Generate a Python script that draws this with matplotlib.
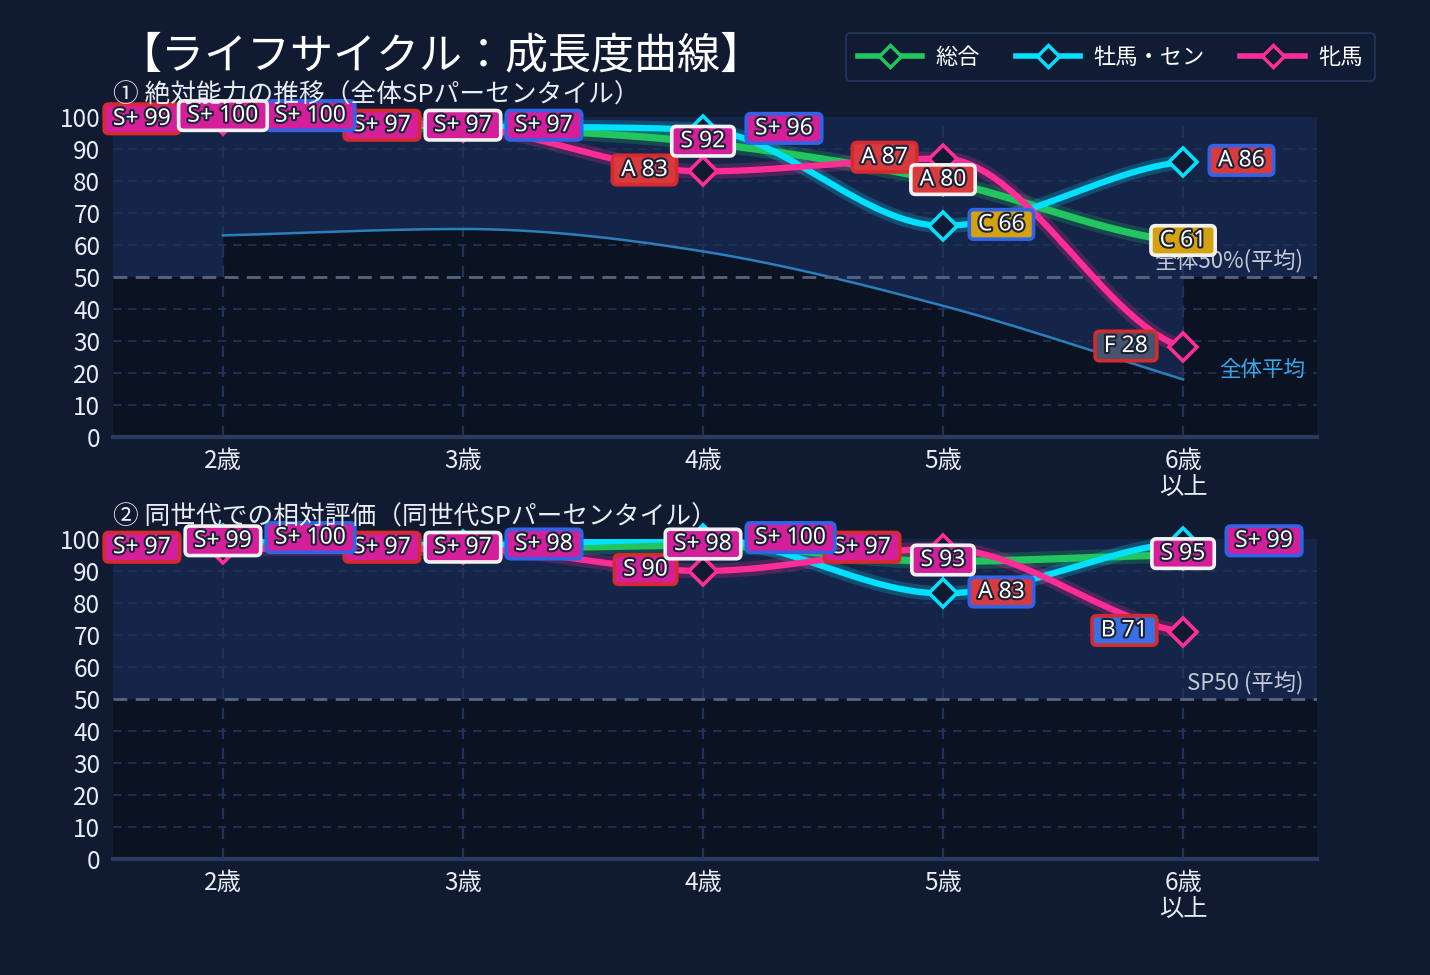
import numpy as np
import matplotlib
matplotlib.use('Agg')
import matplotlib.pyplot as plt
import matplotlib.patheffects as pe
from matplotlib.lines import Line2D

plt.rcParams['font.family'] = ['Noto Sans CJK JP', 'DejaVu Sans']

# ── DATA ─────────────────────────────────────────────
ages = ['2歳', '3歳', '4歳', '5歳', '6歳\n以上']

abs_total = [100, 97, 92, 80, 61]
abs_male = [100, 97, 96, 66, 86]
abs_female = [99, 97, 83, 87, 28]
abs_avg = [63, 65, 58, 41, 18]

rel_total = [99, 97, 98, 93, 95]
rel_male = [100, 98, 100, 83, 99]
rel_female = [97, 97, 90, 97, 71]

series_names = ['総合', '牡馬・セン', '牝馬']

# ── STYLE ────────────────────────────────────────────
BG = '#101a31'
LIGHT = '#15254a'
DARK = '#0b1222'
GRID = '#22335a'
C_TOTAL = '#22c55e'
C_MALE = '#00e1ff'
C_FEMALE = '#ff2d95'
C_AVG = '#2a7fbc'
TXT = '#e9edf5'

grade_fill = {'S+': '#d41f9b', 'S': '#d41f9b', 'A': '#d93a3e', 'B': '#3b6fe4',
              'C': '#d4a20c', 'D': '#8a6d2a', 'E': '#6b5a7a', 'F': '#46546d'}
border = {'総合': '#f2f2f2', '牡馬・セン': '#2f63e8', '牝馬': '#d62a2e'}


def grade(v):
    for th, g in [(96, 'S+'), (90, 'S'), (80, 'A'), (70, 'B'), (60, 'C'), (50, 'D'), (40, 'E')]:
        if v >= th:
            return g
    return 'F'


def smooth(ys, end=0.4, n=241):
    # monotone cubic (Fritsch-Carlson), softened end slopes
    y = np.asarray(ys, float)
    d = np.diff(y)
    m = np.zeros_like(y)
    m[0] = d[0] * end
    m[-1] = d[-1] * end
    for i in range(1, len(y) - 1):
        if d[i - 1] * d[i] > 0:
            m[i] = (d[i - 1] + d[i]) / 2
    for i in range(len(d)):
        if d[i] == 0:
            m[i] = m[i + 1] = 0
            continue
        a, b = m[i] / d[i], m[i + 1] / d[i]
        s = a * a + b * b
        if s > 9:
            t = 3 / np.sqrt(s)
            m[i], m[i + 1] = t * a * d[i], t * b * d[i]
    xs = np.linspace(0, len(y) - 1, n)
    k = np.minimum(xs.astype(int), len(y) - 2)
    t = xs - k
    h00 = 2 * t**3 - 3 * t**2 + 1
    h10 = t**3 - 2 * t**2 + t
    h01 = -2 * t**3 + 3 * t**2
    h11 = t**3 - t**2
    return xs, h00 * y[k] + h10 * m[k] + h01 * y[k + 1] + h11 * m[k + 1]


def setup(ax, avg=None):
    ax.set_facecolor(DARK)
    ax.set_xlim(-0.458, 4.558)
    ax.set_ylim(0, 100)
    ax.axhspan(50, 100, color=LIGHT, zorder=0, lw=0)
    if avg is not None:
        xs, ys = smooth(avg, end=1.0)
        ax.fill_between(xs, ys, 100, color=LIGHT, lw=0, zorder=0.2)
        ax.fill_between(xs, 0, ys, color=DARK, lw=0, zorder=0.2)
        ax.plot(xs, ys, color=C_AVG, lw=1.8, zorder=2)
        ax.text(4.15, 21, '全体平均', color='#3ba7ea', fontsize=15.5, va='center', ha='left')
    for v in range(10, 100, 10):
        if v != 50:
            ax.axhline(v, color=GRID, lw=1.2, ls=(0, (5, 4)), zorder=1.5)
    for i in range(len(ages)):
        ax.axvline(i, color=GRID, lw=1.6, ls=(0, (5, 4)), zorder=1.5)
    ax.axhline(50, color='#56667f', lw=2, ls=(0, (5, 3)), zorder=2)
    ax.axhline(0, color='#2a3b60', lw=3, zorder=2, clip_on=False)
    for s in ax.spines.values():
        s.set_visible(False)
    ax.set_xticks(range(len(ages)))
    ax.set_xticklabels(ages, fontsize=17.5, color=TXT, linespacing=1.0)
    ax.set_yticks(range(0, 101, 10))
    ax.tick_params(axis='y', length=0, pad=9, labelsize=17.5, labelcolor=TXT)
    ax.tick_params(axis='x', length=0, pad=8)


def draw_series(ax, data):
    for (name, vals, col, lw) in data:
        xs, ys = smooth(vals)
        ax.plot(xs, ys, color=col, lw=lw + 6, alpha=0.22, zorder=3, solid_capstyle='round')
        ax.plot(xs, ys, color=col, lw=lw, zorder=4, solid_capstyle='round')
        ax.plot(range(len(vals)), vals, ls='none', marker='D', ms=14, mfc=BG,
                mec=col, mew=2.6, zorder=5, clip_on=False)
    # labels: 牝馬 left, 牡馬・セン right, 総合 centred on top
    for (name, vals, col, lw) in [data[2], data[1], data[0]]:
        for i, v in enumerate(vals):
            g = grade(v)
            gap = 46 if g == 'S+' else 29
            if name == '牝馬':
                off, ha = -gap * 0.72, 'right'
            elif name == '牡馬・セン':
                off, ha = gap * 0.72, 'left'
            else:
                off, ha = 0, 'center'
            ax.annotate(f' {g} {v} ', xy=(i, v), xytext=(off, 1), textcoords='offset points',
                        ha=ha, va='center', fontsize=16.5, color='white', zorder=7,
                        family=['Noto Sans', 'DejaVu Sans'], annotation_clip=False,
                        bbox=dict(boxstyle='round,pad=0.12,rounding_size=0.2',
                                  fc=grade_fill[g], ec=border[name], lw=2.6),
                        path_effects=[pe.withStroke(linewidth=3, foreground='#1b2236')])


fig = plt.figure(figsize=(14.3, 9.75), dpi=100, facecolor=BG)
ax1 = fig.add_axes([113 / 1430, 1 - 437 / 975, 1204 / 1430, 320 / 975])
ax2 = fig.add_axes([113 / 1430, 1 - 859 / 975, 1204 / 1430, 320 / 975])

setup(ax1, abs_avg)
setup(ax2)

ax1.text(4.5, 51.5, '全体50%(平均)', color='#c3cad6', fontsize=16, ha='right', va='bottom', zorder=6)
ax2.text(4.5, 51.5, 'SP50 (平均)', color='#c3cad6', fontsize=16, ha='right', va='bottom', zorder=6)

draw_series(ax1, [('総合', abs_total, C_TOTAL, 5.2), ('牡馬・セン', abs_male, C_MALE, 4.5),
                  ('牝馬', abs_female, C_FEMALE, 4.5)])
draw_series(ax2, [('総合', rel_total, C_TOTAL, 5.2), ('牡馬・セン', rel_male, C_MALE, 4.5),
                  ('牝馬', rel_female, C_FEMALE, 4.5)])

fig.text(118 / 1430, 1 - 56 / 975, '【ライフサイクル：成長度曲線】', fontsize=31, color='white',
         va='center', ha='left')
fig.text(113 / 1430, 1 - 96 / 975, '① 絶対能力の推移（全体SPパーセンタイル）', fontsize=18.5,
         color=TXT, va='center', ha='left')
fig.text(113 / 1430, 1 - 518 / 975, '② 同世代での相対評価（同世代SPパーセンタイル）', fontsize=18.5,
         color=TXT, va='center', ha='left')

handles = [Line2D([], [], color=c, lw=4, marker='D', ms=11, mfc=BG, mec=c, mew=2.5)
           for c in [C_TOTAL, C_MALE, C_FEMALE]]
leg = fig.legend(handles, series_names, loc='center right', ncol=3,
                 bbox_to_anchor=(1386 / 1430, 1 - 57 / 975), frameon=True, fontsize=16,
                 handlelength=2.9, numpoints=1, columnspacing=1.6, handletextpad=0.6,
                 borderpad=0.55, fancybox=True)
leg.get_frame().set_facecolor('#111c36')
leg.get_frame().set_edgecolor('#27375a')
leg.get_frame().set_linewidth(1.5)
for t in leg.get_texts():
    t.set_color('white')

fig.savefig('out.png', dpi=100, facecolor=BG)
